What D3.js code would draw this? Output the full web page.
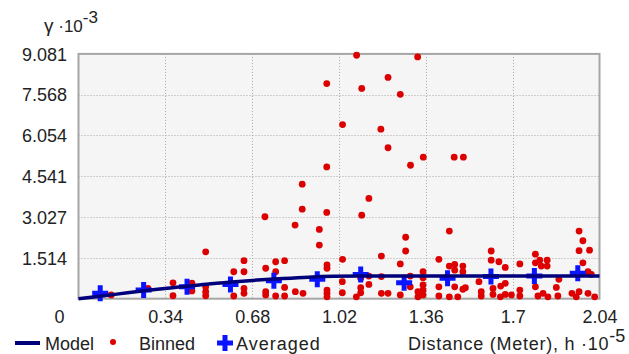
<!DOCTYPE html>
<html><head><meta charset="utf-8">
<script src="https://cdn.jsdelivr.net/npm/d3@7"></script>
<style>
html,body{margin:0;padding:0;background:#fff;}
svg{display:block;}
text{font-family:"Liberation Sans",Arial,sans-serif;fill:#222;}
</style></head>
<body>
<svg id="chart" width="629" height="354"></svg>
<script>
// ---- data (units: h ·10^-5 m, γ ·10^-3) ----
const xTicks = [0, 0.34, 0.68, 1.02, 1.36, 1.7, 2.04];
const xTickLabels = ["0", "0.34", "0.68", "1.02", "1.36", "1.7", "2.04"];
const yTicks = [1.514, 3.027, 4.541, 6.054, 7.568, 9.081];
const yTickLabels = ["1.514", "3.027", "4.541", "6.054", "7.568", "9.081"];

const modelH = [0, 0.1, 0.2, 0.3, 0.4, 0.5, 0.6, 0.7, 0.8, 0.9, 1.0, 1.1, 1.4, 1.7, 2.04];
const modelV = [0, 0.11, 0.23, 0.34, 0.44, 0.54, 0.62, 0.69, 0.75, 0.80, 0.83, 0.84, 0.84, 0.84, 0.84];

const avgH = [0.085, 0.255, 0.425, 0.595, 0.765, 0.935, 1.105, 1.275, 1.445, 1.615, 1.785, 1.955];
const avgV = [0.20, 0.32, 0.44, 0.53, 0.67, 0.72, 0.90, 0.59, 0.76, 0.82, 0.84, 0.94];

const binnedH = [
 0.972,1.034,1.089,1.328,1.212,1.109,1.260,1.184,1.212,1.350,1.471,1.507,1.300,1.137,1.109,1.452,
 0.972,0.876,0.876,0.972,0.730,0.848,0.943,0.943,0.498,1.034,
 0.128,0.272,0.370,0.370,0.498,0.498,0.498,0.444,0.444,
 0.608,0.608,0.648,0.648,0.648,0.648,0.733,0.733,0.733,0.772,0.772,0.772,0.807,0.807,0.807,
 0.973,0.973,0.973,0.973,0.973,0.849,0.879,1.033,1.033,1.088,1.105,1.105,1.105,1.137,1.137,
 1.186,1.186,1.186,1.212,1.281,1.281,1.260,1.411,1.616,1.616,1.646,
 1.452,1.473,1.505,1.505,1.473,1.349,1.349,1.349,1.349,1.349,1.329,1.329,1.299,1.299,1.260,
 1.411,1.411,1.452,1.473,1.485,1.505,1.515,1.568,1.577,1.577,1.623,1.623,1.652,
 1.960,1.975,1.960,2.001,1.975,1.789,1.789,1.806,1.812,1.835,1.835,
 1.728,1.671,1.671,1.671,1.728,1.728,1.695,1.789,1.799,1.819,1.838,
 1.871,1.881,1.877,1.932,1.949,1.960,1.995,2.008,1.995,2.021,1.653
];
const binnedV = [
 7.98,6.46,9.03,8.97,8.21,7.80,7.58,6.29,5.60,5.25,5.25,5.25,4.95,3.72,3.10,2.51,
 4.89,4.25,3.32,3.20,3.04,2.73,2.57,1.99,1.74,1.46,
 0.14,0.38,0.59,0.11,0.44,0.26,0.11,0.58,0.29,
 1.00,0.10,1.41,1.00,0.38,0.20,1.13,0.26,0.14,1.37,1.00,0.10,1.41,0.42,0.10,
 1.25,1.13,0.32,0.20,0.07,0.26,0.20,0.63,0.22,0.07,0.76,0.41,0.22,0.84,0.53,
 1.58,0.82,0.20,0.20,2.28,1.77,1.29,1.46,1.77,1.43,1.37,
 1.21,1.27,1.21,1.00,1.06,1.00,0.78,0.51,0.32,0.14,0.07,0.26,0.84,0.44,0.14,
 0.44,0.10,0.07,0.44,0.07,0.35,0.41,0.63,0.26,0.10,0.38,0.16,0.07,
 2.51,2.15,1.78,1.80,1.33,1.65,1.33,1.43,1.21,1.43,1.21,
 1.29,1.16,0.57,0.16,0.32,0.10,0.14,0.44,0.10,0.20,0.07,
 0.42,0.72,0.10,0.20,0.07,0.26,1.00,0.90,0.20,0.07,0.47
];

// ---- drawing ----
const svg = d3.select("#chart");
const W = 629, H = 354;
const x = d3.scaleLinear().domain([0, 2.04]).range([78.5, 599.5]);
const y = d3.scaleLinear().domain([0, 9.081]).range([298.7, 53.9]);

svg.append("rect").attr("width", W).attr("height", H).attr("fill", "#fff");

// plot background
svg.append("rect")
  .attr("x", x(0)).attr("y", y(9.081))
  .attr("width", x(2.04) - x(0)).attr("height", y(0) - y(9.081))
  .attr("fill", "#f5f5f5");

// grid
const grid = svg.append("g").attr("stroke", "#a8a8a8").attr("stroke-width", 1).attr("stroke-dasharray", "1,2");
grid.selectAll("line.v").data(xTicks.slice(1, -1)).join("line")
  .attr("x1", d => Math.round(x(d)) + 0.5).attr("x2", d => Math.round(x(d)) + 0.5)
  .attr("y1", y(9.081)).attr("y2", y(0));
grid.selectAll("line.h").data(yTicks.slice(0, -1)).join("line")
  .attr("y1", d => Math.round(y(d)) + 0.5).attr("y2", d => Math.round(y(d)) + 0.5)
  .attr("x1", x(0)).attr("x2", x(2.04));

// border
svg.append("rect")
  .attr("x", x(0)).attr("y", y(9.081))
  .attr("width", x(2.04) - x(0)).attr("height", y(0) - y(9.081))
  .attr("fill", "none").attr("stroke", "#a6a6a6").attr("stroke-width", 2);

// binned points
const binned = binnedH.map((h, i) => ({h, v: binnedV[i]}));
svg.append("g").selectAll("circle").data(binned).join("circle")
  .attr("cx", d => x(d.h)).attr("cy", d => y(d.v)).attr("r", 3.4)
  .attr("fill", "#dc0000");

// averaged crosses
const avg = avgH.map((h, i) => ({h, v: avgV[i]}));
const plusPath = (cx, cy, s) => `M${cx - s},${cy}H${cx + s}M${cx},${cy - s}V${cy + s}`;
svg.append("g").selectAll("path").data(avg).join("path")
  .attr("d", d => plusPath(x(d.h), y(d.v), 8))
  .attr("stroke", "#0a14ff").attr("stroke-width", 5).attr("fill", "none");

// model line
const model = modelH.map((h, i) => ({h, v: modelV[i]}));
svg.append("path").datum(model)
  .attr("d", d3.line().x(d => x(d.h)).y(d => y(d.v)).curve(d3.curveMonotoneX))
  .attr("fill", "none").attr("stroke", "#00007a").attr("stroke-width", 3.5);

// y axis labels
const yAxis = d3.axisLeft(y).tickValues(yTicks).tickFormat((d, i) => yTickLabels[i]).tickSize(0).tickPadding(0);
const gy = svg.append("g").attr("transform", "translate(67,0)").call(yAxis);
gy.select(".domain").remove();
gy.selectAll("text").attr("font-size", 18).attr("font-family", "Liberation Sans, Arial, sans-serif").attr("fill", "#222").attr("dy", "0.35em");

// x axis labels
const xAxis = d3.axisBottom(x).tickValues(xTicks).tickFormat((d, i) => xTickLabels[i]).tickSize(0).tickPadding(0);
const gx = svg.append("g").attr("transform", "translate(0,310)").call(xAxis);
gx.select(".domain").remove();
gx.selectAll("text").attr("font-size", 18).attr("font-family", "Liberation Sans, Arial, sans-serif").attr("fill", "#222").attr("dy", "0.71em");
gx.selectAll(".tick").filter(d => d === 0).attr("transform", "translate(59.5,0)");

// y title
const yt = svg.append("text").attr("x", 44).attr("y", 32).attr("font-size", 17);
yt.append("tspan").attr("font-size", 19).text("\u03B3");
yt.append("tspan").text(" \u00B710");
yt.append("tspan").attr("dy", -9).text("-3");

// legend
const ly = 343;
svg.append("line").attr("x1", 15).attr("x2", 40).attr("y1", ly).attr("y2", ly)
  .attr("stroke", "#00007a").attr("stroke-width", 4);
svg.append("text").attr("x", 45).attr("y", ly + 6.5).attr("font-size", 18).text("Model");
svg.append("circle").attr("cx", 113).attr("cy", ly - 1).attr("r", 3).attr("fill", "#dc0000");
svg.append("text").attr("x", 139).attr("y", ly + 6.5).attr("font-size", 18).text("Binned");
svg.append("path").attr("d", plusPath(225, ly, 8)).attr("stroke", "#0a14ff").attr("stroke-width", 5);
svg.append("text").attr("x", 236).attr("y", ly + 6.5).attr("font-size", 18).attr("letter-spacing", 1).text("Averaged");
const xt = svg.append("text").attr("x", 408).attr("y", ly + 6.5).attr("font-size", 18).attr("letter-spacing", 0.75);
xt.append("tspan").text("Distance (Meter), h \u00B710");
xt.append("tspan").attr("dy", -8).attr("letter-spacing", 0).text("-5");
</script>
</body></html>
